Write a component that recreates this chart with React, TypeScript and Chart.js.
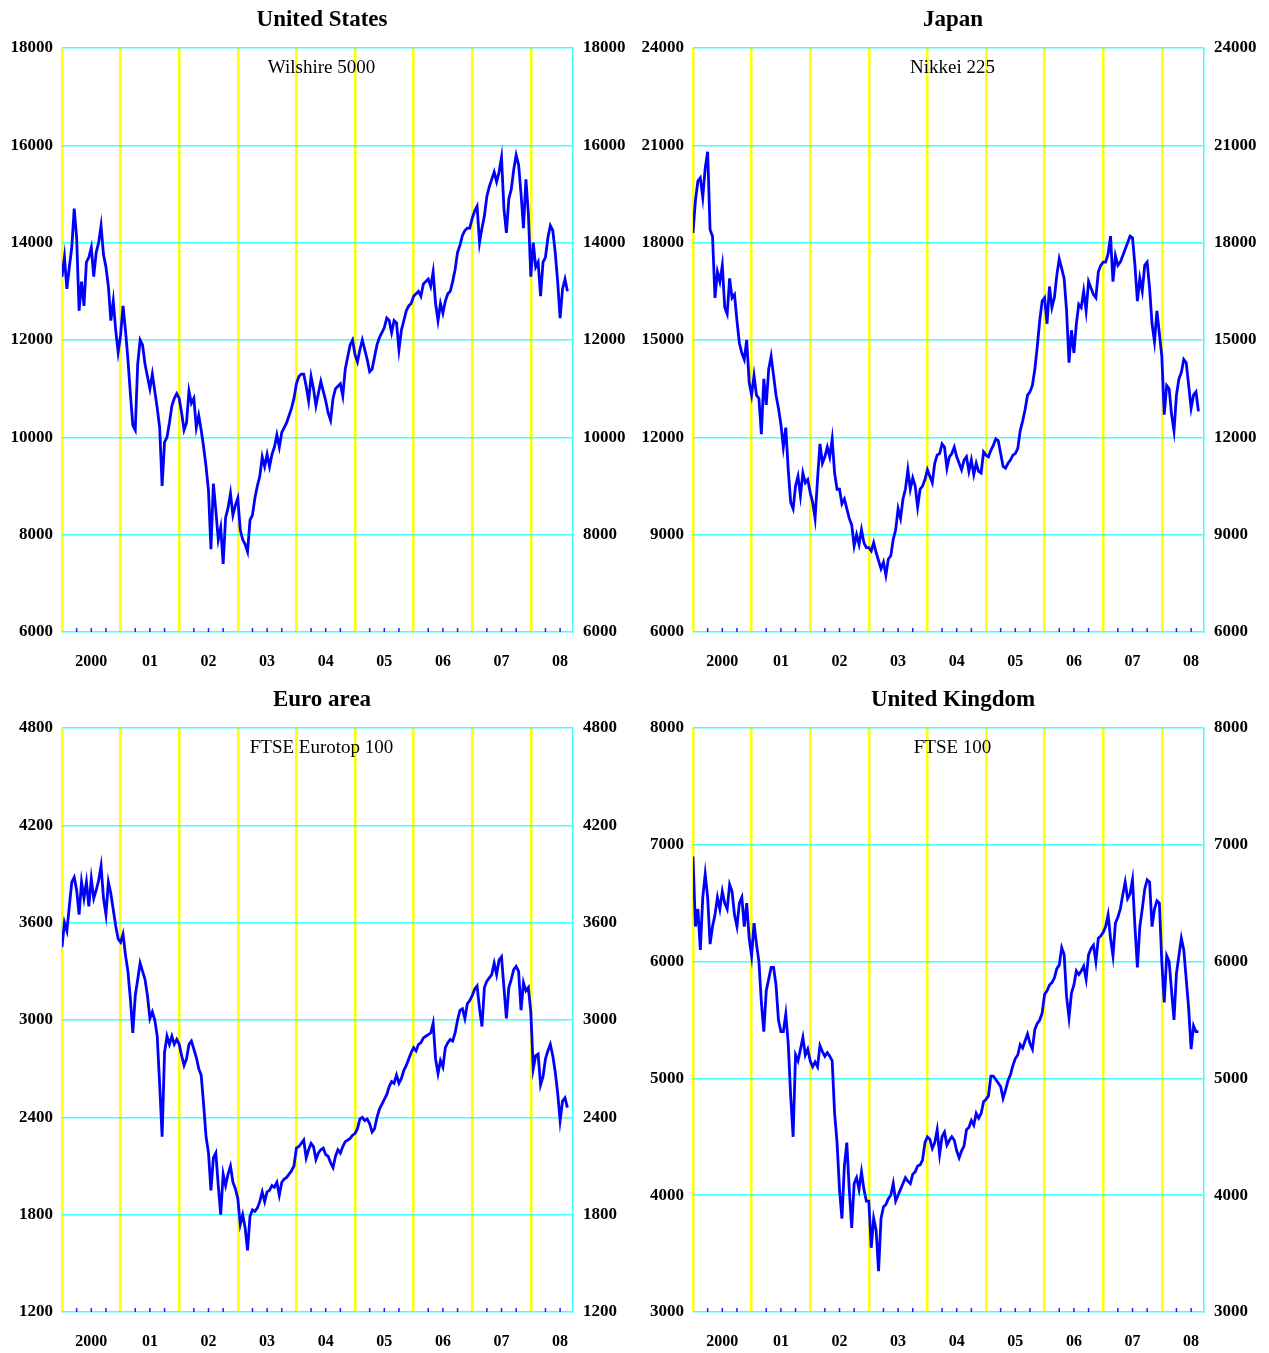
import React, { useEffect, useRef } from 'react';
import { Chart, registerables } from 'chart.js';

Chart.register(...registerables);

const FONT = '"Liberation Serif", "Times New Roman", Times, serif';
const YELLOW = '#FFFF00';
const CYAN = '#40FFFF';
const LINE_BLUE = '#0000FF';
const TICK_BLUE = '#2020FF';

const START_YEAR = 2000;
const PERIODS_PER_YEAR = 24; // half-monthly readings
const X_MAX = 2008.72;
const YEAR_LABELS = ['2000', '01', '02', '03', '04', '05', '06', '07', '08'];
const QUARTER_TICKS: number[] = [];
for (let y = 2000; y <= 2008; y++) {
  for (let q = 0; q < 4; q++) {
    const v = y + q / 4;
    if (v < X_MAX) QUARTER_TICKS.push(v);
  }
}

// United States - Wilshire 5000
const usValues = [
  13300, 13700, 13050, 13500, 13900, 14700, 14100, 12600, 13200, 12700, 13600, 13700, 13900, 13300, 13800, 14000, 14350, 13750, 13500, 13100, 12400, 12800, 12200, 11750,
  12100, 12700, 12200, 11600, 10900, 10250, 10150, 11500, 12000, 11900, 11500, 11250, 11000, 11300, 10950, 10600, 10200, 9000, 9900, 10000, 10300, 10650, 10800, 10900,
  10800, 10500, 10150, 10300, 10950, 10700, 10800, 10200, 10450, 10150, 9800, 9400, 8900, 7700, 9050, 8500, 7900, 8150, 7400, 8350, 8550, 8850, 8400, 8600,
  8750, 8100, 7900, 7800, 7650, 8300, 8400, 8750, 9000, 9200, 9600, 9400, 9650, 9400, 9650, 9800, 10050, 9800, 10100, 10200, 10300, 10450, 10600, 10800,
  11100, 11250, 11300, 11300, 11050, 10750, 11250, 11000, 10650, 10900, 11150, 10950, 10750, 10500, 10350, 10800, 11000, 11050, 11100, 10850, 11400, 11650, 11900, 12000,
  11700, 11550, 11800, 12000, 11800, 11600, 11350, 11400, 11650, 11900, 12050, 12150, 12250, 12450, 12400, 12150, 12400, 12350, 11800, 12200, 12400, 12600, 12700, 12750,
  12900, 12950, 13000, 12900, 13150, 13200, 13250, 13100, 13400, 12750, 12400, 12750, 12550, 12800, 12950, 13000, 13200, 13450, 13800, 13950, 14150, 14250, 14300, 14300,
  14500, 14650, 14750, 14000, 14300, 14550, 14950, 15150, 15300, 15450, 15250, 15450, 15750, 14700, 14200, 14900, 15100, 15500, 15800, 15600, 15000, 14300, 15300, 14600,
  13300, 14000, 13500, 13600, 12900, 13600, 13700, 14100, 14350, 14250, 13800, 13200, 12450, 13050, 13250, 13000,
];

// Japan - Nikkei 225
const jpValues = [
  18300, 19300, 19900, 20000, 19400, 20300, 20800, 18400, 18200, 16300, 17100, 16800, 17300, 16000, 15800, 16900, 16300, 16400, 15600, 14900, 14600, 14400, 15000, 13700,
  13300, 13900, 13300, 13200, 12100, 13800, 13000, 14100, 14500, 13900, 13300, 12900, 12400, 11700, 12300, 11000, 10000, 9800, 10500, 10800, 10200, 10900, 10600, 10700,
  10300, 10000, 9500, 10700, 11800, 11200, 11400, 11700, 11400, 11950, 10900, 10400, 10400, 9950, 10100, 9800, 9500, 9300, 8650, 9000, 8700, 9150, 8750, 8600,
  8600, 8500, 8750, 8450, 8200, 7950, 8150, 7750, 8250, 8350, 8850, 9150, 9800, 9500, 10100, 10400, 11000, 10400, 10750, 10500, 9850, 10400, 10500, 10700,
  11000, 10800, 10600, 11200, 11450, 11500, 11800, 11700, 11050, 11400, 11500, 11700, 11400, 11200, 11000, 11300, 11400, 10950, 11300, 10850, 11200, 10950, 10900, 11550,
  11450, 11400, 11600, 11750, 11950, 11900, 11500, 11100, 11050, 11200, 11300, 11450, 11500, 11650, 12200, 12500, 12850, 13300, 13400, 13600, 14100, 14800, 15600, 16200,
  16300, 15500, 16650, 16000, 16300, 17000, 17500, 17200, 16900, 15900, 14300, 15300, 14600, 15500, 16100, 16000, 16500, 15900, 16800, 16600, 16400, 16300, 17100, 17300,
  17400, 17400, 17650, 18200, 16800, 17600, 17300, 17400, 17600, 17800, 18000, 18200, 18150, 17300, 16200, 16900, 16500, 17300, 17400, 16600, 15500, 14950, 15900, 15200,
  14500, 12700, 13600, 13500, 12700, 12200, 13300, 13800, 14000, 14400, 14300, 13600, 12900, 13300, 13400, 12800,
];

// Euro area - FTSE Eurotop 100
const euValues = [
  3450, 3600, 3550, 3700, 3850, 3880, 3800, 3650, 3850, 3750, 3850, 3700, 3870, 3750, 3800, 3860, 3950, 3750, 3650, 3850, 3780, 3680, 3580, 3500,
  3480, 3530, 3400, 3300, 3130, 2920, 3150, 3250, 3350, 3300, 3250, 3150, 3010, 3050, 3000, 2900, 2600, 2280, 2800, 2900, 2850, 2900, 2850, 2880,
  2850, 2780, 2720, 2760, 2850, 2870, 2820, 2770, 2700, 2660, 2480, 2280, 2180, 1950, 2150, 2180, 1980, 1800, 2050, 1980, 2050, 2100, 2000, 1960,
  1900, 1740, 1800, 1720, 1580, 1790, 1830, 1820, 1840, 1880, 1940, 1880, 1940, 1950, 1980, 1970, 2000, 1920, 2000, 2020, 2030, 2050, 2070, 2100,
  2210, 2220, 2240, 2260, 2150, 2200, 2240, 2220, 2140, 2180, 2200, 2210, 2170, 2160, 2120, 2090, 2160, 2200, 2180, 2220, 2250, 2260, 2270, 2290,
  2300, 2330, 2390, 2400, 2380, 2390, 2360, 2310, 2330, 2400, 2450, 2480, 2510, 2540, 2590, 2620, 2610, 2660, 2610, 2640, 2690, 2720, 2760, 2800,
  2830, 2810, 2850, 2860, 2890, 2900, 2910, 2920, 2980, 2760, 2670, 2750, 2710, 2830, 2860, 2880, 2870, 2920, 3000, 3060, 3070, 3010, 3100, 3120,
  3150, 3190, 3210, 3070, 2960, 3200, 3240, 3260, 3280, 3350, 3280, 3370, 3390, 3200, 3010, 3200, 3250, 3310, 3330, 3300, 3060, 3230, 3180, 3200,
  3050, 2700, 2780, 2790, 2600, 2650, 2760, 2810, 2850, 2780, 2680, 2550, 2380, 2500, 2520, 2460,
];

// United Kingdom - FTSE 100
const ukValues = [
  6900, 6300, 6450, 6100, 6550, 6750, 6550, 6150, 6300, 6400, 6550, 6450, 6600, 6500, 6450, 6660, 6600, 6400, 6300, 6500, 6550, 6300, 6500, 6200,
  6050, 6330, 6150, 6000, 5650, 5400, 5750, 5850, 5950, 5950, 5800, 5500, 5400, 5400, 5550, 5300, 4850, 4500, 5200, 5150, 5250, 5350, 5200, 5250,
  5150, 5100, 5140, 5100, 5280, 5230, 5190, 5220, 5190, 5150, 4700, 4450, 4050, 3800, 4250, 4450, 4050, 3720, 4100, 4150, 4050, 4200, 4050, 3950,
  3950, 3550, 3800, 3700, 3350, 3800, 3900, 3920, 3970, 4000, 4100, 3950, 4000, 4050, 4100, 4150, 4120, 4100, 4180, 4200, 4250, 4260, 4300, 4450,
  4500, 4480, 4400, 4450, 4560, 4350, 4500, 4540, 4430, 4470, 4500, 4470, 4380, 4320, 4380, 4420, 4560, 4580, 4640, 4600, 4700, 4660, 4700, 4800,
  4820, 4850, 5020, 5020, 4990, 4960, 4930, 4830, 4900, 4980, 5030, 5110, 5170, 5200, 5290, 5260, 5320, 5380, 5300, 5250, 5420, 5470, 5500, 5560,
  5720, 5750, 5800, 5820, 5860, 5940, 5970, 6120, 6060, 5700, 5520, 5730, 5800, 5920, 5890, 5920, 5960, 5850, 6060, 6110, 6140, 6000, 6200, 6220,
  6250, 6300, 6400, 6200, 6050, 6330, 6380, 6450, 6570, 6680, 6540, 6580, 6700, 6300, 5950, 6300, 6450, 6620, 6700, 6680, 6300, 6450, 6520, 6500,
  6000, 5650, 6050, 6000, 5750, 5500, 5900, 6050, 6200, 6100, 5850, 5600, 5250, 5450, 5400, 5400,
];

type PanelCfg = {
  title: string;
  subtitle: string;
  values: number[];
  min: number;
  max: number;
  step: number;
  left: number;
  top: number;
  height: number;
};

const CANVAS_W = 644;
const TITLE_BLOCK = 48;
const PLOT_H = 584;
const LEFT_AXIS_W = 62;
const RIGHT_AXIS_W = 71;

const panels: PanelCfg[] = [
  { title: 'United States', subtitle: 'Wilshire 5000', values: usValues, min: 6000, max: 18000, step: 2000, left: 0, top: 0, height: 676 },
  { title: 'Japan', subtitle: 'Nikkei 225', values: jpValues, min: 6000, max: 24000, step: 3000, left: 631, top: 0, height: 676 },
  { title: 'Euro area', subtitle: 'FTSE Eurotop 100', values: euValues, min: 1200, max: 4800, step: 600, left: 0, top: 680, height: 673 },
  { title: 'United Kingdom', subtitle: 'FTSE 100', values: ukValues, min: 3000, max: 8000, step: 1000, left: 631, top: 680, height: 673 },
];

function overlayPlugin(subtitle: string) {
  return {
    id: 'overlay',
    beforeDatasetsDraw(chart: any) {
      const { ctx, chartArea, scales } = chart;
      const xs = scales.x;
      ctx.save();
      ctx.strokeStyle = TICK_BLUE;
      ctx.lineWidth = 1.5;
      xs.ticks.forEach((t: any) => {
        if (t.value % 1 !== 0) {
          const px = xs.getPixelForValue(t.value);
          ctx.beginPath();
          ctx.moveTo(px, chartArea.bottom);
          ctx.lineTo(px, chartArea.bottom - 4);
          ctx.stroke();
        }
      });
      ctx.fillStyle = '#000';
      ctx.font = `19px ${FONT}`;
      ctx.textAlign = 'center';
      ctx.textBaseline = 'middle';
      ctx.fillText(subtitle, (chartArea.left + chartArea.right) / 2 + 4, chartArea.top + 20);
      ctx.restore();
    },
  };
}

function Panel({ cfg }: { cfg: PanelCfg }) {
  const ref = useRef<HTMLCanvasElement>(null);
  useEffect(() => {
    if (!ref.current) return;
    const data = cfg.values.map((v, i) => ({ x: START_YEAR + i / PERIODS_PER_YEAR, y: v }));
    const xAxisH = cfg.height - TITLE_BLOCK - PLOT_H;
    const yTicks = {
      stepSize: cfg.step,
      color: '#000',
      font: { family: FONT, size: 17, weight: 'bold' as const },
      callback: (v: any) => String(v),
    };
    const chart = new Chart(ref.current, {
      type: 'line',
      data: {
        datasets: [
          {
            data,
            borderColor: LINE_BLUE,
            borderWidth: 2.8,
            pointRadius: 0,
            tension: 0,
            fill: false,
          },
        ],
      },
      options: {
        animation: false,
        responsive: false,
        events: [],
        layout: { padding: 0 },
        plugins: {
          legend: { display: false },
          tooltip: { enabled: false },
          title: {
            display: true,
            text: cfg.title,
            color: '#000',
            font: { family: FONT, size: 23, weight: 'bold', lineHeight: 1.2 },
            padding: { top: 6, bottom: TITLE_BLOCK - 6 - 23 * 1.2 },
          },
        },
        scales: {
          x: {
            type: 'linear',
            min: START_YEAR,
            max: X_MAX,
            bounds: 'data',
            afterBuildTicks: (s: any) => {
              s.ticks = QUARTER_TICKS.map((v) => ({ value: v }));
            },
            afterFit: (s: any) => {
              s.height = xAxisH;
            },
            ticks: {
              autoSkip: false,
              maxRotation: 0,
              minRotation: 0,
              padding: 20,
              color: '#000',
              font: { family: FONT, size: 16, weight: 'bold' },
              callback: (v: any) => {
                const n = Number(v);
                const f = n - Math.floor(n);
                return Math.abs(f - 0.5) < 1e-6 ? YEAR_LABELS[Math.floor(n) - START_YEAR] : '';
              },
            },
            grid: {
              color: (ctx: any) => (ctx.tick && ctx.tick.value % 1 === 0 ? YELLOW : 'rgba(0,0,0,0)'),
              lineWidth: 2.5,
              drawTicks: false,
            },
            border: { display: false },
          },
          y: {
            position: 'left',
            min: cfg.min,
            max: cfg.max,
            bounds: 'data',
            afterFit: (s: any) => {
              s.width = LEFT_AXIS_W;
            },
            ticks: { ...yTicks, padding: 9 },
            grid: { color: CYAN, lineWidth: 1.5, drawTicks: false },
            border: { display: false },
          },
          y2: {
            position: 'right',
            min: cfg.min,
            max: cfg.max,
            bounds: 'data',
            afterFit: (s: any) => {
              s.width = RIGHT_AXIS_W;
            },
            ticks: { ...yTicks, padding: 10 },
            grid: { display: false, drawTicks: false },
            border: { display: true, color: CYAN, width: 1.5 },
          },
        },
      } as any,
      plugins: [overlayPlugin(cfg.subtitle)],
    });
    return () => chart.destroy();
  }, [cfg]);
  return (
    <div style={{ position: 'absolute', left: cfg.left, top: cfg.top, width: CANVAS_W, height: cfg.height }}>
      <canvas ref={ref} width={CANVAS_W} height={cfg.height} style={{ display: 'block', width: CANVAS_W, height: cfg.height }} />
    </div>
  );
}

export default function App() {
  return (
    <div
      style={{
        position: 'absolute',
        left: 0,
        top: 0,
        width: 1269,
        height: 1353,
        overflow: 'hidden',
        background: '#fff',
      }}
    >
      {panels.map((p) => (
        <Panel key={p.title} cfg={p} />
      ))}
    </div>
  );
}
